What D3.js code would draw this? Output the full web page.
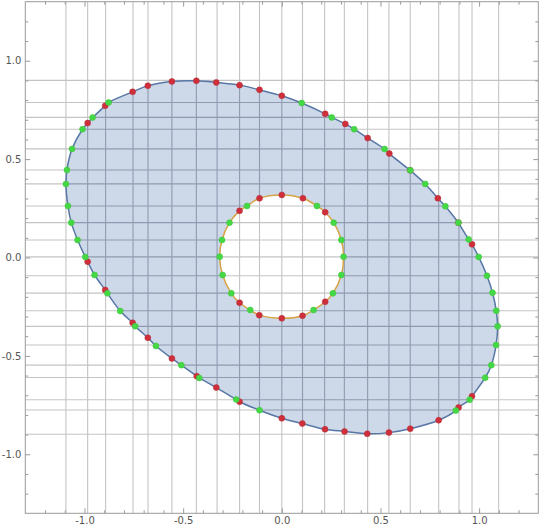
<!DOCTYPE html>
<html>
<head>
<meta charset="utf-8">
<script src="https://cdn.jsdelivr.net/npm/d3@7"></script>
<style>
  html, body { margin: 0; padding: 0; background: #fff; }
  svg { display: block; }
</style>
</head>
<body>
<svg id="chart" width="540" height="528"></svg>
<script>
// ---- data ----
const outerX = [-0.433,-0.332,-0.214,-0.113,0.000,0.101,0.220,0.253,0.322,0.367,0.435,0.521,0.545,0.651,0.651,0.727,0.791,0.829,0.895,0.895,0.947,0.964,0.998,1.040,1.068,1.087,1.094,1.086,1.062,1.031,0.964,0.952,0.896,0.882,0.795,0.651,0.543,0.433,0.318,0.219,0.104,0.000,-0.113,-0.214,-0.231,-0.332,-0.418,-0.431,-0.509,-0.557,-0.638,-0.679,-0.743,-0.756,-0.819,-0.884,-0.895,-0.949,-0.984,-0.996,-1.035,-1.067,-1.084,-1.094,-1.089,-1.063,-1.010,-0.984,-0.959,-0.895,-0.878,-0.756,-0.679,-0.557];
const outerY = [0.898,0.890,0.876,0.852,0.822,0.785,0.730,0.712,0.679,0.652,0.607,0.551,0.528,0.443,0.443,0.374,0.301,0.260,0.177,0.177,0.092,0.067,0.003,-0.093,-0.179,-0.271,-0.350,-0.445,-0.547,-0.611,-0.705,-0.723,-0.762,-0.778,-0.827,-0.870,-0.890,-0.896,-0.884,-0.873,-0.844,-0.817,-0.776,-0.733,-0.722,-0.661,-0.612,-0.603,-0.547,-0.513,-0.450,-0.408,-0.349,-0.332,-0.272,-0.182,-0.165,-0.089,-0.021,0.003,0.089,0.177,0.262,0.373,0.445,0.552,0.652,0.683,0.711,0.771,0.788,0.842,0.873,0.895];
const outerKind = ["r","r","r","r","r","g","r","g","r","g","r","g","r","r","g","g","r","g","r","g","g","r","g","g","g","g","g","g","g","g","r","g","r","g","r","r","r","r","r","r","r","r","g","r","g","r","g","r","g","r","g","r","g","r","g","g","r","g","r","g","g","g","g","g","g","g","g","r","g","r","g","r","r","r"];

const innerX = [-0.113,0.000,0.107,0.178,0.220,0.263,0.302,0.313,0.302,0.259,0.220,0.161,0.105,0.000,-0.114,-0.160,-0.214,-0.256,-0.300,-0.315,-0.303,-0.265,-0.214,-0.176];
const innerY = [0.301,0.318,0.301,0.262,0.230,0.177,0.089,0.004,-0.089,-0.182,-0.225,-0.267,-0.296,-0.309,-0.293,-0.267,-0.230,-0.182,-0.089,0.004,0.089,0.177,0.237,0.262];
const innerKind = ["r","r","r","g","r","g","g","g","g","g","r","g","r","r","r","g","r","g","g","g","g","g","r","g"];

const gridX = [-1.094,-0.984,-0.893,-0.754,-0.678,-0.557,-0.433,-0.328,-0.214,-0.113,0.000,0.105,0.217,0.317,0.435,0.543,0.651,0.795,0.898,0.964,1.099];
const gridY = [0.900,0.788,0.712,0.652,0.552,0.445,0.374,0.262,0.177,0.089,0.003,-0.093,-0.181,-0.271,-0.350,-0.445,-0.547,-0.610,-0.723,-0.775,-0.898];

const majorTicks = [-1.0,-0.5,0.0,0.5,1.0];
const minorTicks = [-1.2,-1.1,-0.9,-0.8,-0.7,-0.6,-0.4,-0.3,-0.2,-0.1,0.1,0.2,0.3,0.4,0.6,0.7,0.8,0.9,1.1,1.2];
const tickLabels = ["-1.0","-0.5","0.0","0.5","1.0"];
const domain = [-1.3, 1.3];

// ---- layout ----
const svg = d3.select("#chart");
const pL = 25.3, pR = 538.3, pT = 1.7, pB = 513.3;
const x = d3.scaleLinear().domain(domain).range([pL, pR]);
const y = d3.scaleLinear().domain(domain).range([pB, pT]);

const outerPts = outerX.map((v, i) => ({x: v, y: outerY[i], k: outerKind[i]}));
const innerPts = innerX.map((v, i) => ({x: v, y: innerY[i], k: innerKind[i]}));

const line = d3.line().x(d => x(d.x)).y(d => y(d.y)).curve(d3.curveCatmullRomClosed.alpha(0.5));
const outerPath = line(outerPts);
const innerPath = line(innerPts);
const regionPath = outerPath + innerPath;

const defs = svg.append("defs");
defs.append("clipPath").attr("id", "plotClip")
  .append("rect").attr("x", pL).attr("y", pT).attr("width", pR - pL).attr("height", pB - pT);
defs.append("clipPath").attr("id", "regionClip")
  .append("path").attr("d", regionPath).attr("clip-rule", "evenodd");

function drawGrid(g, color) {
  g.selectAll("line.gx").data(gridX).join("line").attr("class", "gx")
    .attr("x1", d => x(d)).attr("x2", d => x(d)).attr("y1", pT).attr("y2", pB)
    .attr("stroke", color).attr("stroke-width", 1.1);
  g.selectAll("line.gy").data(gridY).join("line").attr("class", "gy")
    .attr("y1", d => y(d)).attr("y2", d => y(d)).attr("x1", pL).attr("x2", pR)
    .attr("stroke", color).attr("stroke-width", 1.1);
}

const plot = svg.append("g").attr("clip-path", "url(#plotClip)");
drawGrid(plot.append("g"), "#c4c4c4");

plot.append("path").attr("d", regionPath).attr("fill", "#cdd8e8").attr("fill-rule", "evenodd");

drawGrid(plot.append("g").attr("clip-path", "url(#regionClip)"), "#8f9bb0");

plot.append("path").attr("d", outerPath).attr("fill", "none").attr("stroke", "#5877a6").attr("stroke-width", 1.5);
plot.append("path").attr("d", innerPath).attr("fill", "none").attr("stroke", "#d6a347").attr("stroke-width", 1.5);

const allPts = outerPts.concat(innerPts);
const ptsG = plot.append("g");
ptsG.selectAll("circle.r").data(allPts.filter(d => d.k === "r")).join("circle").attr("class", "r")
  .attr("cx", d => x(d.x)).attr("cy", d => y(d.y)).attr("r", 3)
  .attr("fill", "#cf2f3a").attr("stroke", "#b0303a").attr("stroke-width", 0.5);
ptsG.selectAll("circle.g").data(allPts.filter(d => d.k === "g")).join("circle").attr("class", "g")
  .attr("cx", d => x(d.x)).attr("cy", d => y(d.y)).attr("r", 3)
  .attr("fill", "#44d944").attr("stroke", "#3cc23c").attr("stroke-width", 0.5);

// ---- frame with inward ticks ----
const frame = svg.append("g");
const fc = "#9a9a9a";
frame.append("rect").attr("x", pL).attr("y", pT).attr("width", pR - pL).attr("height", pB - pT)
  .attr("fill", "none").attr("stroke", fc).attr("stroke-width", 1);

const axB = d3.axisBottom(x).tickValues(majorTicks).tickFormat((d, i) => tickLabels[i]).tickSizeInner(-5).tickSizeOuter(0).tickPadding(4);
const axL = d3.axisLeft(y).tickValues(majorTicks).tickFormat((d, i) => tickLabels[i]).tickSizeInner(-5).tickSizeOuter(0).tickPadding(4);
const axT = d3.axisTop(x).tickValues(majorTicks).tickFormat("").tickSizeInner(-5).tickSizeOuter(0);
const axR = d3.axisRight(y).tickValues(majorTicks).tickFormat("").tickSizeInner(-5).tickSizeOuter(0);
const mB = d3.axisBottom(x).tickValues(minorTicks).tickFormat("").tickSizeInner(-3).tickSizeOuter(0);
const mL = d3.axisLeft(y).tickValues(minorTicks).tickFormat("").tickSizeInner(-3).tickSizeOuter(0);
const mT = d3.axisTop(x).tickValues(minorTicks).tickFormat("").tickSizeInner(-3).tickSizeOuter(0);
const mR = d3.axisRight(y).tickValues(minorTicks).tickFormat("").tickSizeInner(-3).tickSizeOuter(0);

function place(ax, tr) {
  const g = frame.append("g").attr("transform", tr).call(ax);
  g.select(".domain").remove();
  g.selectAll(".tick line").attr("stroke", fc);
  g.selectAll(".tick text").attr("fill", "#555").style("font-family", "'DejaVu Sans', sans-serif").style("font-size", "10px");
  return g;
}
place(axB, `translate(0,${pB})`);
place(axL, `translate(${pL},0)`);
place(axT, `translate(0,${pT})`);
place(axR, `translate(${pR},0)`);
place(mB, `translate(0,${pB})`);
place(mL, `translate(${pL},0)`);
place(mT, `translate(0,${pT})`);
place(mR, `translate(${pR},0)`);
</script>
</body>
</html>
